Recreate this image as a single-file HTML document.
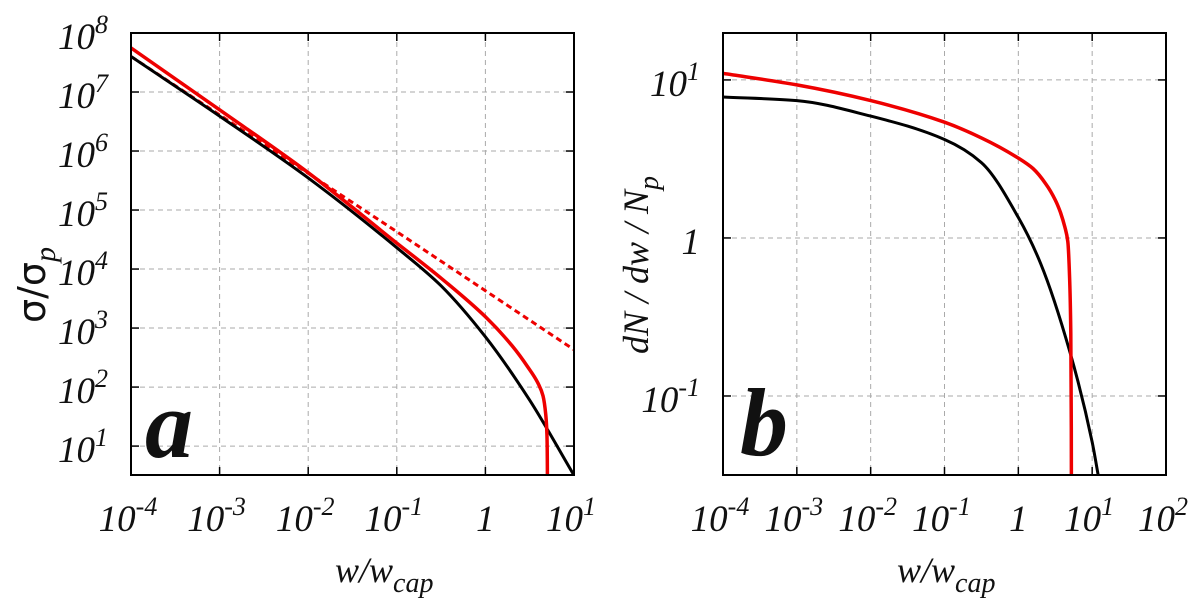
<!DOCTYPE html>
<html><head><meta charset="utf-8"><style>
html,body{margin:0;padding:0;background:#fff;width:1200px;height:605px;overflow:hidden}
svg{display:block}
text{font-family:"Liberation Serif",serif;font-style:italic;fill:#111}
</style></head><body>
<svg id="chart" width="1200" height="605" viewBox="0 0 1200 605">
<defs>
<clipPath id="clipA"><rect x="131" y="33" width="443" height="442"/></clipPath>
<clipPath id="clipB"><rect x="723" y="33" width="443" height="442"/></clipPath>
</defs>
<g id="panelA"></g>
<g id="panelB"></g>
<text x="145" y="457" font-size="96" font-weight="bold">a</text>
<text x="740" y="455" font-size="96" font-weight="bold">b</text>
<text x="335" y="582" font-size="36">w/w<tspan font-size="28" dy="10">cap</tspan></text>
<text x="897" y="582" font-size="36">w/w<tspan font-size="28" dy="10">cap</tspan></text>
<text transform="translate(45,285) rotate(-90)" text-anchor="middle" font-size="38" style="font-style:normal;font-family:'DejaVu Sans',sans-serif">σ/σ<tspan font-size="30" dy="10" style="font-family:'Liberation Serif',serif;font-style:italic">p</tspan></text>
<text transform="translate(648,265) rotate(-90)" text-anchor="middle" font-size="36">dN / dw / N<tspan font-size="28" dy="10">p</tspan></text>
</svg>
<script>
// Panel a data
const aRedX = [1e-4, 1e-3, 1e-2, 1e-1, 0.316, 1, 2, 3, 4, 4.47, 4.79, 4.95, 5.01, 5.04];
const aRed = [5.6e7, 5.0e6, 4.3e5, 2.75e4, 7.0e3, 1.55e3, 5.0e2, 2.2e2, 1.1e2, 71, 35, 16, 3.2, 0.1];
const aBlackX = [1e-4, 1e-3, 1e-2, 1e-1, 0.316, 1, 3.16, 10];
const aBlack = [4.0e7, 3.9e6, 3.5e5, 2.3e4, 5.2e3, 7.1e2, 60, 3.2];
const aDashX = [1e-4, 1e-3, 1e-2, 1e-1, 1, 10];
const aDash = [4.0e7, 4.1e6, 4.2e5, 4.3e4, 4.3e3, 4.3e2];
const aXTicks = ["10|-4","10|-3","10|-2","10|-1","1|","10|1"];
const aYTicks = ["10|1","10|2","10|3","10|4","10|5","10|6","10|7","10|8"];
// Panel b data
const bRedX = [1e-4, 1e-3, 1e-2, 1e-1, 0.316, 1, 1.58, 2.37, 3.16, 3.72, 4.27, 4.68, 4.95, 5.13, 5.22, 5.25];
const bRed = [11, 9.3, 7.4, 5.4, 4.3, 3.2, 2.75, 2.19, 1.74, 1.45, 1.17, 0.95, 0.56, 0.25, 0.063, 0.01];
const bBlackX = [1e-4, 1e-3, 1e-2, 1e-1, 0.316, 1, 2, 5, 10, 12.3];
const bBlack = [7.8, 7.4, 5.9, 4.2, 3.0, 1.35, 0.69, 0.19, 0.051, 0.03];
const bXTicks = ["10|-4","10|-3","10|-2","10|-1","1|","10|1","10|2"];
const bYTicks = ["10|-1","1|","10|1"];

const NS = "http://www.w3.org/2000/svg";
function el(tag, attrs, parent){const e=document.createElementNS(NS,tag);for(const k in attrs)e.setAttribute(k,attrs[k]);parent.appendChild(e);return e;}
function logScale(d0,d1,r0,r1){return v=>r0+(Math.log10(v)-d0)/(d1-d0)*(r1-r0);}

function tickLabel(g, s, x, y, anchor, name){
  const [base, sup] = s.split("|");
  const t = el("text",{x:x,y:y,"font-size":"37","text-anchor":anchor},g);
  
  
  t.appendChild(document.createTextNode(base));
  if(sup){const ts=el("tspan",{"font-size":"26",dy:"-16"},t);ts.textContent=sup;}
}
// monotone cubic (Fritsch-Carlson) through pixel points, x increasing
function monotone(p){
  const n=p.length, dx=[], m=[], t=[];
  for(let i=0;i<n-1;i++){dx.push(p[i+1][0]-p[i][0]);m.push((p[i+1][1]-p[i][1])/dx[i]);}
  t[0]=m[0];t[n-1]=m[n-2];
  for(let i=1;i<n-1;i++){t[i]=(m[i-1]*m[i]<=0)?0:(dx[i-1]+dx[i])*3/((2*dx[i]+dx[i-1])/m[i-1]+(dx[i]+2*dx[i-1])/m[i]);}
  let d="M"+p[0][0].toFixed(1)+","+p[0][1].toFixed(1);
  for(let i=0;i<n-1;i++){
    const h=dx[i]/3;
    d+="C"+(p[i][0]+h).toFixed(1)+","+(p[i][1]+t[i]*h).toFixed(1)+" "+(p[i+1][0]-h).toFixed(1)+","+(p[i+1][1]-t[i+1]*h).toFixed(1)+" "+p[i+1][0].toFixed(1)+","+p[i+1][1].toFixed(1);
  }
  return d;
}

function panel(g, cfg){
  const {x0,x1,y0,y1,xd,yd} = cfg;
  const sx = logScale(xd[0],xd[1],x0,x1), sy = logScale(yd[0],yd[1],y1,y0);
  cfg.xt.forEach((s,i)=>{const v=Math.pow(10,cfg.xStart+i);const x=sx(v);
    if(x>x0+1&&x<x1-1){const l=el("line",{x1:x,x2:x,y1:y0,y2:y1,stroke:"#aaa","stroke-width":1,"stroke-dasharray":"5,4"},g);
      
      }
    el("line",{x1:x,x2:x,y1:y1,y2:y1-8,stroke:"#000","stroke-width":1.5},g);
    el("line",{x1:x,x2:x,y1:y0,y2:y0+8,stroke:"#000","stroke-width":1.5},g);
    tickLabel(g,s,x+(s==="1|"?0:-3),531,"middle","x-tick-label");
  });
  cfg.yt.forEach((s,i)=>{const v=Math.pow(10,cfg.yStart+i);const y=sy(v);
    if(y>y0+1&&y<y1-1){const l=el("line",{x1:x0,x2:x1,y1:y,y2:y,stroke:"#aaa","stroke-width":1,"stroke-dasharray":"5,4"},g);
      
      }
    el("line",{x1:x0,x2:x0+8,y1:y,y2:y,stroke:"#000","stroke-width":1.5},g);
    el("line",{x1:x1,x2:x1-8,y1:y,y2:y,stroke:"#000","stroke-width":1.5},g);
    tickLabel(g,s,cfg.ylabX,y+16,"end","y-tick-label");
  });
  const series = el("g",{"clip-path":`url(#${cfg.clip})`},g);
  cfg.series.forEach(sr=>{
    const pts=sr.x.map((xv,i)=>[sx(xv),sy(sr.y[i])]);
    const d=sr.dash?("M"+pts.map(q=>q[0].toFixed(1)+","+q[1].toFixed(1)).join("L")):monotone(pts);
    const p=el("path",{d:d,fill:"none",stroke:sr.color,"stroke-width":sr.w,"stroke-dasharray":sr.dash||"none","stroke-linejoin":"round"},series);
    
    
  });
  const fr=el("rect",{x:x0,y:y0,width:x1-x0,height:y1-y0,fill:"none",stroke:"#000","stroke-width":2},g);
  
  
}

panel(document.getElementById("panelA"),{x0:131,x1:574,y0:33,y1:475,xd:[-4,1],yd:[0.51,8],
  xStart:-4,yStart:1,xt:aXTicks,yt:aYTicks,ylabX:108,clip:"clipA",
  series:[
    {x:aDashX,y:aDash,color:"#e00",w:3,dash:"6,4",name:"red-dashed-powerlaw"},
    {x:aBlackX,y:aBlack,color:"#000",w:3,name:"black-curve-a"},
    {x:aRedX,y:aRed,color:"#e00",w:3.5,name:"red-curve-a"}]});
panel(document.getElementById("panelB"),{x0:723,x1:1166,y0:33,y1:475,xd:[-4,2],yd:[-1.5,1.297],
  xStart:-4,yStart:-1,xt:bXTicks,yt:bYTicks,ylabX:700,clip:"clipB",
  series:[
    {x:bBlackX,y:bBlack,color:"#000",w:3,name:"black-curve-b"},
    {x:bRedX,y:bRed,color:"#e00",w:3.5,name:"red-curve-b"}]});
</script>
</body></html>
